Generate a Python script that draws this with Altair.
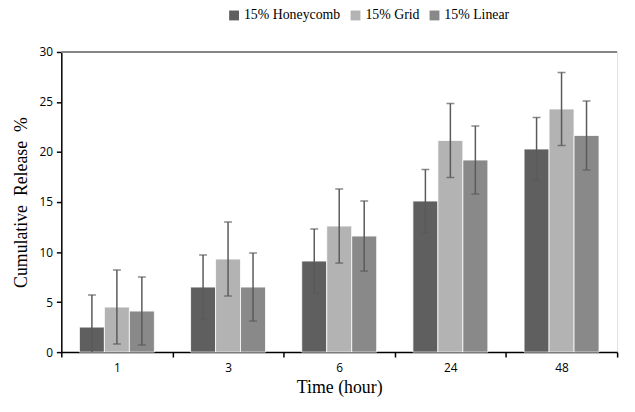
import altair as alt
import pandas as pd

times = ["1", "3", "6", "24", "48"]
series = ["15% Honeycomb", "15% Grid", "15% Linear"]
honeycomb = [2.5, 6.5, 9.1, 15.1, 20.3]
honeycomb_err = [3.2, 3.2, 3.2, 3.15, 3.15]
grid = [4.5, 9.3, 12.6, 21.15, 24.3]
grid_err = [3.7, 3.7, 3.7, 3.7, 3.65]
linear = [4.1, 6.5, 11.6, 19.2, 21.65]
linear_err = [3.4, 3.4, 3.5, 3.4, 3.45]
colors = ["#5f5f5f", "#b3b3b3", "#898989"]
y_ticks = [0, 5, 10, 15, 20, 25, 30]

rows = []
for name, vals, errs in [(series[0], honeycomb, honeycomb_err),
                         (series[1], grid, grid_err),
                         (series[2], linear, linear_err)]:
    for t, v, e in zip(times, vals, errs):
        rows.append({"time": t, "series": name, "value": v, "lo": v - e, "hi": v + e})
df = pd.DataFrame(rows)

x_enc = alt.X(
    "time:N", sort=times,
    scale=alt.Scale(paddingInner=0, paddingOuter=0),
    axis=alt.Axis(
        title="Time (hour)", labelAngle=0, tickBand="extent",
        domainColor="black", domainWidth=1.5, tickColor="black", tickWidth=1.5,
        tickSize=5, labelFont="Open Sans", labelFontSize=12, labelColor="black",
        labelPadding=6, titleFont="Liberation Serif", titleFontSize=18,
        titleFontWeight="normal", titleColor="black", titlePadding=5,
    ),
)
xo_enc = alt.XOffset("series:N", sort=series,
                     scale=alt.Scale(paddingInner=0, paddingOuter=0.725))
y_scale = alt.Scale(domain=[0, 30], nice=False, zero=True)

base = alt.Chart(df)

bars = base.mark_bar(stroke="white", strokeWidth=0.8).encode(
    x=x_enc,
    xOffset=xo_enc,
    y=alt.Y(
        "value:Q", scale=y_scale,
        axis=alt.Axis(
            title="Cumulative\u00a0 Release\u00a0 %", values=y_ticks, grid=False,
            domainColor="black", domainWidth=1.5, tickColor="black", tickWidth=1.5,
            tickSize=5, labelFont="Open Sans", labelFontSize=12, labelColor="black",
            labelPadding=4, titleFont="Liberation Serif", titleFontSize=18,
            titleFontWeight="normal", titleColor="black", titlePadding=9,
        ),
    ),
    color=alt.Color(
        "series:N", sort=series,
        scale=alt.Scale(domain=series, range=colors),
        legend=alt.Legend(
            title=None, orient="none", legendX=168, legendY=-44,
            direction="horizontal", symbolType="square", symbolSize=100,
            symbolStrokeWidth=0, labelFont="Liberation Serif", labelFontSize=14,
            labelColor="black", columnPadding=8, labelOffset=3,
        ),
    ),
)

err_rule = base.mark_rule(color="#5a5a5a", strokeWidth=1.5, clip=True).encode(
    x=alt.X("time:N", sort=times),
    xOffset=alt.XOffset("series:N", sort=series),
    y=alt.Y("lo:Q", scale=y_scale),
    y2="hi:Q",
)
cap_hi = base.mark_tick(color="#5a5a5a", thickness=1.5, size=8, orient="horizontal", clip=True).encode(
    x=alt.X("time:N", sort=times),
    xOffset=alt.XOffset("series:N", sort=series),
    y=alt.Y("hi:Q", scale=y_scale),
)
cap_lo = base.mark_tick(color="#5a5a5a", thickness=1.5, size=8, orient="horizontal", clip=True).encode(
    x=alt.X("time:N", sort=times),
    xOffset=alt.XOffset("series:N", sort=series),
    y=alt.Y("lo:Q", scale=y_scale),
)
top_line = alt.Chart(pd.DataFrame({"y": [30]})).mark_rule(color="#868686", strokeWidth=2).encode(
    y=alt.Y("y:Q", scale=y_scale)
)

chart = alt.layer(bars, err_rule, cap_hi, cap_lo, top_line).properties(
    width=563, height=304,
    autosize=alt.AutoSizeParams(type="none"),
    padding={"left": 54, "top": 42, "right": 10, "bottom": 50},
).configure_view(stroke=None).configure(background="white")

chart.save("out.html", embed_options={"renderer": "svg", "actions": False})
